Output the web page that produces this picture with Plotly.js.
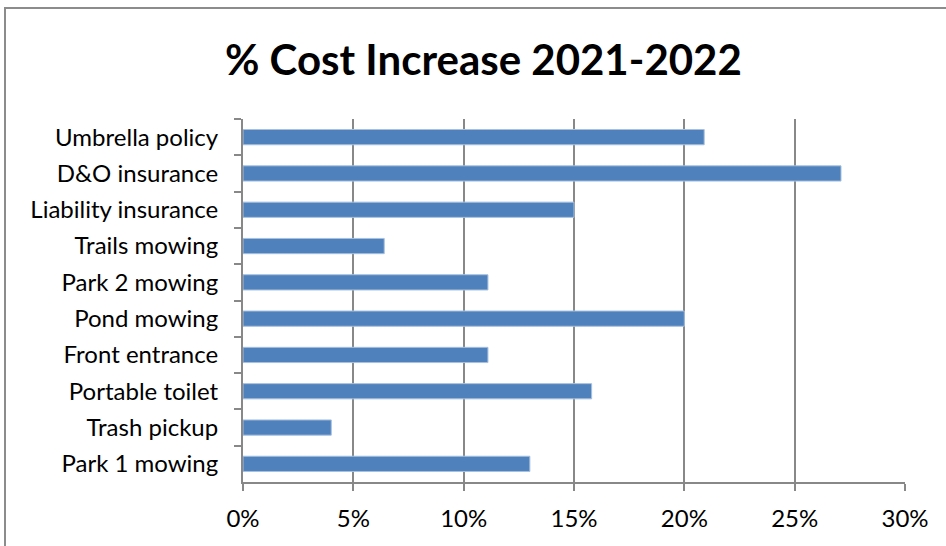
<!DOCTYPE html>
<html>
<head>
<meta charset="utf-8">
<script src="https://cdn.plot.ly/plotly-3.0.1.min.js"></script>
<style>
  html, body { margin: 0; padding: 0; background: #fff; }
  #chart { width: 946px; height: 546px; }
  #frame { position: absolute; left: 4px; top: 7px; width: 960px; height: 560px;
           border: 2px solid #8c8c8c; pointer-events: none; box-sizing: border-box; }
</style>
</head>
<body>
<div id="chart"></div>
<div id="frame"></div>
<script>
const categories = ["Umbrella policy", "D&O insurance", "Liability insurance", "Trails mowing",
  "Park 2 mowing", "Pond mowing", "Front entrance", "Portable toilet", "Trash pickup", "Park 1 mowing"];
const costIncrease = [0.209, 0.271, 0.150, 0.064, 0.111, 0.200, 0.111, 0.158, 0.040, 0.130];
const xTickValues = [0, 0.05, 0.10, 0.15, 0.20, 0.25, 0.30];
const xTickLabels = ["0%", "5%", "10%", "15%", "20%", "25%", "30%"];

const FONT = "Lato, 'Open Sans', sans-serif";
const trace = {
  type: "bar",
  orientation: "h",
  y: categories,
  x: costIncrease,
  marker: { color: "#4F81BD", line: { color: "#A7C0DE", width: 1 } },
  hoverinfo: "skip"
};

const layout = {
  width: 946, height: 546,
  margin: { l: 243, r: 41, t: 119, b: 64 },
  paper_bgcolor: "#fff", plot_bgcolor: "#fff",
  showlegend: false,
  bargap: 0.58,
  title: {
    text: "<b>% Cost Increase 2021-2022</b>",
    font: { family: FONT, size: 42, color: "#000" },
    x: 0.511, xanchor: "center", y: 0.89, yanchor: "middle"
  },
  xaxis: {
    range: [0, 0.30],
    tickvals: xTickValues, ticktext: xTickLabels,
    showgrid: true, gridcolor: "#888888", gridwidth: 2,
    showline: true, linecolor: "#888888", linewidth: 2,
    ticks: "outside", ticklen: 7, tickwidth: 2, tickcolor: "#888888",
    tickfont: { family: FONT, size: 24, color: "#000" },
    ticklabelstandoff: 7,
    zeroline: false, fixedrange: true
  },
  yaxis: {
    type: "category",
    autorange: "reversed",
    showgrid: false,
    showline: true, linecolor: "#888888", linewidth: 2,
    ticks: "outside", tickson: "boundaries", ticklen: 7, tickwidth: 2, tickcolor: "#888888",
    tickfont: { family: FONT, size: 24, color: "#000" },
    ticklabelstandoff: 18,
    fixedrange: true
  }
};

Plotly.newPlot("chart", [trace], layout, { displayModeBar: false, staticPlot: true });
</script>
</body>
</html>
